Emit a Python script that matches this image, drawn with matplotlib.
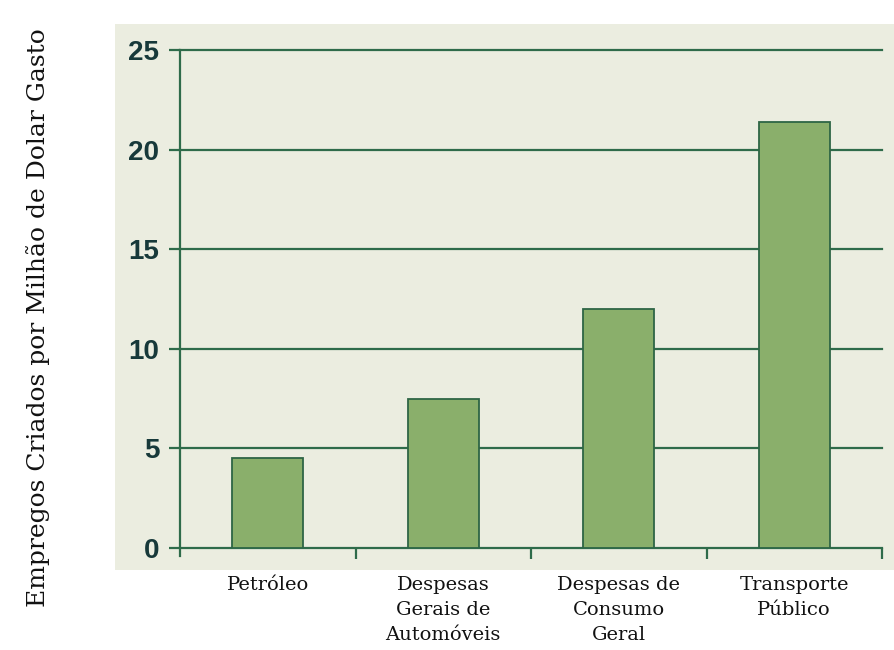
import matplotlib
matplotlib.use("Agg")
import matplotlib.pyplot as plt
from matplotlib.patches import Rectangle
import numpy as np

# data
categories = ["Petróleo", "Despesas\nGerais de\nAutomóveis", "Despesas de\nConsumo\nGeral", "Transporte\nPúblico"]
values = [4.5, 7.5, 12.0, 21.4]
yticks = [0, 5, 10, 15, 20, 25]

bg = "#EBEDE0"
bar_color = "#8AAF6B"
edge_color = "#2E6545"
grid_color = "#2E6B4A"
tick_color = "#17393A"

fig = plt.figure(figsize=(8.94, 6.5), dpi=100)
fig.patch.set_facecolor("white")

# cream panel behind the plot
fig.patches.append(Rectangle((115 / 894, 1 - 570 / 650), 1 - 115 / 894, (570 - 24) / 650,
                             transform=fig.transFigure, facecolor=bg, edgecolor="none", zorder=-10))

ax = fig.add_axes([180 / 894, 1 - 548 / 650, 702 / 894, 498 / 650])
ax.set_facecolor("none")

x = np.arange(len(categories))
ax.bar(x, values, width=0.405, color=bar_color, edgecolor=edge_color, linewidth=1.3, zorder=3)

ax.set_xlim(-0.5, 3.5)
ax.set_ylim(0, 25)
ax.set_yticks(yticks)
ax.yaxis.grid(True, color=grid_color, linewidth=1.6, zorder=1)
ax.set_axisbelow(True)
for gl in ax.yaxis.get_gridlines():
    gl.set_clip_on(False)

for s in ["top", "right", "bottom"]:
    ax.spines[s].set_visible(False)
ax.spines["left"].set_color(grid_color)
ax.spines["left"].set_linewidth(1.6)
ax.spines["left"].set_bounds(-0.4, 25)

ax.tick_params(axis="y", length=8, width=1.6, color=grid_color, pad=7, labelcolor=tick_color)
for lbl in ax.get_yticklabels():
    lbl.set_family(["Liberation Sans", "DejaVu Sans"])
    lbl.set_fontweight("bold")
    lbl.set_fontsize(20)

# category tick marks at the boundaries, labels at the centers
ax.set_xticks(np.arange(0.5, 4.0, 1.0))
ax.set_xticklabels([])
ax.tick_params(axis="x", length=8, width=1.6, color=grid_color)
ax.set_xticks(x, minor=True)
ax.set_xticklabels(categories, minor=True, family="DejaVu Serif", fontsize=14,
                   linespacing=1.5, va="top", ha="center", color="#111111")
ax.tick_params(axis="x", which="minor", length=0, pad=20)

fig.text(38 / 894, 1 - 318 / 650, "Empregos Criados por Milhão de Dolar Gasto", rotation=90,
         family="DejaVu Serif", fontsize=18, ha="center", va="center", color="#111111")

fig.savefig("out.png", dpi=100)
